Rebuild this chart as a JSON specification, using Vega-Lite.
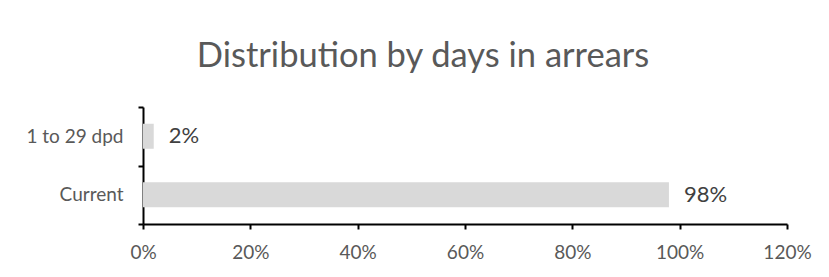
{
  "$schema": "https://vega.github.io/schema/vega-lite/v6.json",
  "width": 644,
  "height": 117,
  "autosize": {"type": "none"},
  "padding": {"left": 143, "top": 107, "right": 42, "bottom": 53},
  "background": "white",
  "title": {
    "text": "Distribution by days in arrears",
    "font": "Lato",
    "fontSize": 34.5,
    "fontWeight": "normal",
    "color": "#595959",
    "anchor": "middle",
    "frame": "group",
    "dx": -42,
    "offset": 24
  },
  "data": {
    "values": [
      {"category": "1 to 29 dpd", "value": 0.02},
      {"category": "Current", "value": 0.98}
    ]
  },
  "config": {"view": {"stroke": null}},
  "encoding": {
    "y": {
      "field": "category",
      "type": "nominal",
      "sort": ["1 to 29 dpd", "Current"],
      "scale": {"paddingInner": 0, "paddingOuter": 0},
      "axis": {
        "title": null,
        "domainColor": "black",
        "domainWidth": 2,
        "tickColor": "black",
        "tickWidth": 2,
        "tickSize": 5,
        "tickBand": "extent",
        "labelFont": "Lato",
        "labelFontSize": 19,
        "labelColor": "#595959",
        "labelPadding": 15
      }
    },
    "x": {
      "field": "value",
      "type": "quantitative",
      "scale": {"domain": [0, 1.2], "nice": false},
      "axis": {
        "title": null,
        "format": ".0%",
        "values": [0, 0.2, 0.4, 0.6, 0.8, 1.0, 1.2],
        "grid": false,
        "labelFlush": false,
        "labelOverlap": false,
        "domainColor": "black",
        "domainWidth": 2,
        "tickColor": "black",
        "tickWidth": 2,
        "tickSize": 5,
        "labelFont": "Lato",
        "labelFontSize": 19,
        "labelColor": "#595959",
        "labelPadding": 14
      }
    }
  },
  "layer": [
    {"mark": {"type": "bar", "size": 25, "color": "#d9d9d9"}},
    {
      "mark": {"type": "text", "align": "left", "baseline": "middle", "dx": 15, "font": "Lato", "fontSize": 22, "color": "#404040"},
      "encoding": {"text": {"field": "value", "type": "quantitative", "format": ".0%"}}
    }
  ]
}
